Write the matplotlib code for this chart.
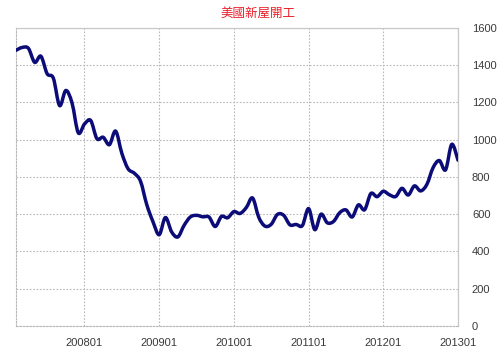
import matplotlib.pyplot as plt
from matplotlib.path import Path
from matplotlib.patches import PathPatch

# monthly housing starts, 2007-02 .. 2013-01 (thousand units, annual rate)
starts = [1480, 1495, 1490, 1415, 1448, 1354, 1330, 1183, 1264, 1197, 1037,
          1084, 1103, 1005, 1013, 973, 1046, 927, 844, 820, 777, 652, 560,
          490, 582, 505, 478, 540, 585, 594, 586, 585, 534, 588, 581,
          614, 604, 636, 687, 583, 536, 546, 599, 594, 543, 545, 539,
          630, 517, 600, 554, 561, 608, 623, 585, 650, 624, 711, 694,
          723, 704, 695, 739, 703, 752, 725, 760, 850, 888, 838, 975,
          890]
# tick labels and which month they sit on
tick_labels = ["200801", "200901", "201001", "201101", "201201", "201301"]
tick_months = [11, 23, 35, 47, 59, 71]
y_ticks = [0, 200, 400, 600, 800, 1000, 1200, 1400, 1600]
title = "美國新屋開工"

plt.rcParams['font.family'] = ['Liberation Sans', 'Noto Sans CJK TC', 'DejaVu Sans']

fig = plt.figure(figsize=(5, 3.53), dpi=100)
ax = fig.add_axes([0.032, 0.0765, 0.884, 0.8445])

# smoothed line like the spreadsheet chart: cubic bezier through every point
xs = list(range(len(starts)))
pts = list(zip(xs, starts))
verts = [pts[0]]
codes = [Path.MOVETO]
for i in range(len(pts) - 1):
    p0 = pts[i - 1] if i > 0 else pts[i]
    p1 = pts[i]
    p2 = pts[i + 1]
    p3 = pts[i + 2] if i + 2 < len(pts) else pts[i + 1]
    c1 = (p1[0] + (p2[0] - p0[0]) / 6, p1[1] + (p2[1] - p0[1]) / 6)
    c2 = (p2[0] - (p3[0] - p1[0]) / 6, p2[1] - (p3[1] - p1[1]) / 6)
    verts += [c1, c2, p2]
    codes += [Path.CURVE4] * 3
ax.add_patch(PathPatch(Path(verts, codes), facecolor='none',
                       edgecolor='#0c0c78', lw=2.5, capstyle='round',
                       joinstyle='round', zorder=3))

ax.set_xlim(0, len(starts) - 1)
ax.set_ylim(0, 1600)
ax.set_xticks(tick_months)
ax.set_xticklabels(tick_labels)
ax.set_yticks(y_ticks)

ax.yaxis.tick_right()
ax.tick_params(axis='both', length=0, labelsize=8, colors='#3a3a3a')
ax.tick_params(axis='x', pad=9)
ax.tick_params(axis='y', pad=10)

# dotted grey grid
ax.grid(True, color='#b8b8b8', linestyle=(0, (1.5, 1.5)), linewidth=0.8)
ax.set_axisbelow(True)

for side in ['top', 'right']:
    ax.spines[side].set_color('#c8c8c8')
    ax.spines[side].set_linewidth(0.9)
for side in ['left', 'bottom']:
    ax.spines[side].set_color('#b8b8b8')
    ax.spines[side].set_linestyle((0, (1.5, 1.5)))
    ax.spines[side].set_linewidth(0.8)

fig.text(0.516, 0.962, title, color='#e8202a', fontsize=9,
         ha='center', va='center', family=['Noto Sans CJK TC', 'DejaVu Sans'])

plt.savefig('out.png', dpi=100)
